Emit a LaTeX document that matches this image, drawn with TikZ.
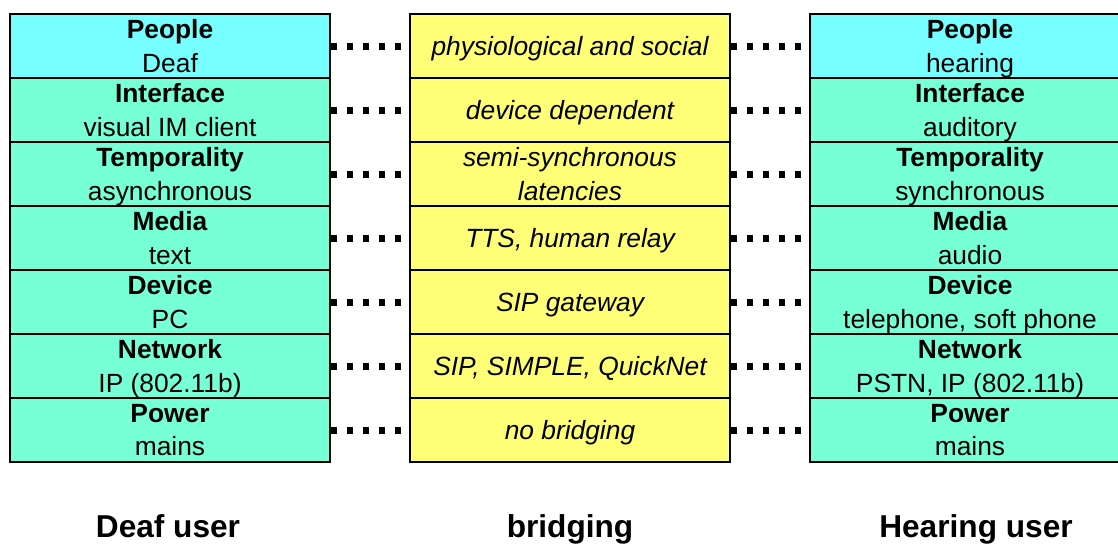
\documentclass[tikz,border=0pt]{standalone}
\usepackage{fontspec}
\setmainfont{Liberation Sans}
\usepackage{xcolor}
\usepackage{tikz}
\usetikzlibrary{arrows.meta}
\usetikzlibrary{positioning}

\definecolor{cian}{HTML}{77FFFF}
\definecolor{aguamarina}{HTML}{77FFD5}
\definecolor{amarillo}{HTML}{FFFF77}

\begin{document}
\begin{tikzpicture}[
  capa/.style={rectangle, draw, line width=1.1pt, fill=aguamarina, minimum width=6.4cm, minimum height=1.28cm, align=center, inner sep=0pt, text depth=0pt, font=\fontsize{15}{19}\selectfont},
  persona/.style={capa, fill=cian},
  puente/.style={capa, fill=amarillo, font=\fontsize{15}{19}\selectfont\itshape},
  puntos/.style={line width=0.14cm, dash pattern=on 0.13cm off 0.19cm},
  titulo/.style={font=\fontsize{18}{21}\selectfont\bfseries}
]
\useasboundingbox (0,0) rectangle (22.36,-10.88);

% Usuario sordo
\node[persona] (L1) at (3.4, -0.92) {\textbf{People}\\Deaf};
\node[capa] (L2) at (3.4, -2.20) {\textbf{Interface}\\visual IM client};
\node[capa] (L3) at (3.4, -3.48) {\textbf{Temporality}\\asynchronous};
\node[capa] (L4) at (3.4, -4.76) {\textbf{Media}\\text};
\node[capa] (L5) at (3.4, -6.04) {\textbf{Device}\\PC};
\node[capa] (L6) at (3.4, -7.32) {\textbf{Network}\\IP (802.11b)};
\node[capa] (L7) at (3.4, -8.60) {\textbf{Power}\\mains};

% Puente
\node[puente] (M1) at (11.4, -0.92) {physiological and social};
\node[puente] (M2) at (11.4, -2.20) {device dependent};
\node[puente] (M3) at (11.4, -3.48) {semi-synchronous\\latencies};
\node[puente] (M4) at (11.4, -4.76) {TTS, human relay};
\node[puente] (M5) at (11.4, -6.04) {SIP gateway};
\node[puente] (M6) at (11.4, -7.32) {SIP, SIMPLE, QuickNet};
\node[puente] (M7) at (11.4, -8.60) {no bridging};

% Usuario oyente
\node[persona] (R1) at (19.4, -0.92) {\textbf{People}\\hearing};
\node[capa] (R2) at (19.4, -2.20) {\textbf{Interface}\\auditory};
\node[capa] (R3) at (19.4, -3.48) {\textbf{Temporality}\\synchronous};
\node[capa] (R4) at (19.4, -4.76) {\textbf{Media}\\audio};
\node[capa] (R5) at (19.4, -6.04) {\textbf{Device}\\telephone, soft phone};
\node[capa] (R6) at (19.4, -7.32) {\textbf{Network}\\PSTN, IP (802.11b)};
\node[capa] (R7) at (19.4, -8.60) {\textbf{Power}\\mains};

% Conexiones punteadas
\draw[puntos] (L1) -- (M1); \draw[puntos] (M1) -- (R1);
\draw[puntos] (L2) -- (M2); \draw[puntos] (M2) -- (R2);
\draw[puntos] (L3) -- (M3); \draw[puntos] (M3) -- (R3);
\draw[puntos] (L4) -- (M4); \draw[puntos] (M4) -- (R4);
\draw[puntos] (L5) -- (M5); \draw[puntos] (M5) -- (R5);
\draw[puntos] (L6) -- (M6); \draw[puntos] (M6) -- (R6);
\draw[puntos] (L7) -- (M7); \draw[puntos] (M7) -- (R7);

% Etiquetas
\node[titulo] (deaf) at (3.36, -10.6) {\strut Deaf user};
\node[titulo] (bridge) at (11.4, -10.6) {\strut bridging};
\node[titulo] (hear) at (19.52, -10.6) {\strut Hearing user};

\end{tikzpicture}
\end{document}
